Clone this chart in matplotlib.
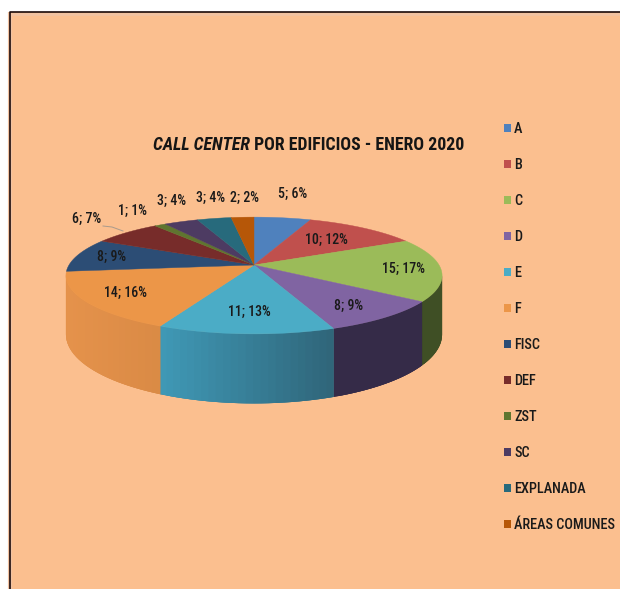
import numpy as np
import matplotlib
matplotlib.use("Agg")
import matplotlib.pyplot as plt
from matplotlib.patches import Polygon, Patch, Rectangle
from matplotlib.colors import to_rgb

categories = ["A", "B", "C", "D", "E", "F", "FISC", "DEF", "ZST", "SC", "EXPLANADA", "ÁREAS COMUNES"]
counts = [5, 10, 15, 8, 11, 14, 8, 6, 1, 3, 3, 2]
percents = [6, 12, 17, 9, 13, 16, 9, 7, 1, 4, 4, 2]
title_italic = "CALL CENTER"
title_rest = " POR EDIFICIOS - ENERO 2020"

colors = ["#4F81BD", "#C0504D", "#9BBB59", "#8064A2", "#4BACC6", "#EC9648",
          "#2C4D75", "#772C2A", "#5F7530", "#4D3B62", "#276A7C", "#B65708"]
wall_from = {2: "#3F4F25", 3: "#352B48", 4: "#3F98B5", 5: "#E5924B"}
wall_to = {2: "#3F4F25", 3: "#352B48", 4: "#2F6478", 5: "#D98A45"}
label_xy = [(293, 194), (326, 240), (403, 269), (349, 306), (249, 312), (125, 293),
            (112, 257), (87, 219), (133, 211), (172, 201), (211, 198), (244, 198)]

BG = "#FBBF8F"
CX, CY = 254, 265          # pie apex in pixels
A, B, K, H = 185, 56.5, 0.18, 57   # projection of the tilted disc

plt.rcParams["font.family"] = ["Roboto Condensed", "Liberation Sans"]
fig = plt.figure(figsize=(6.2, 5.89), dpi=100, facecolor="white")
ax = fig.add_axes([0, 0, 1, 1])
ax.set_xlim(0, 620)
ax.set_ylim(589, 0)
ax.axis("off")

ax.add_patch(Rectangle((10, 12), 615, 580, fc=BG, ec="none", zorder=0))
ax.plot([10, 10], [589, 12], color="#F2C3A2", lw=3, zorder=1, solid_capstyle="butt")
ax.plot([10, 620], [13.5, 13.5], color="#F2C3A2", lw=2, zorder=1, solid_capstyle="butt")
ax.plot([9.5, 9.5, 620], [589, 12, 12], color="#1A0A0A", lw=1.2, zorder=2)


def rim(deg):
    t = np.radians(deg)
    s = 1 / (1 + K * np.cos(t))
    return CX + A * np.sin(t) * s, CY - B * np.cos(t) * s, s


edges = np.concatenate([[0], np.cumsum(counts)]) / np.sum(counts) * 360
vis_lo = np.degrees(np.arccos(-K))
vis_hi = 360 - vis_lo

# outer walls: one solid backing polygon, then overlapping bands for the shading
for i, (a0, a1) in enumerate(zip(edges[:-1], edges[1:])):
    lo, hi = max(a0, vis_lo), min(a1, vis_hi)
    if lo >= hi or i not in wall_from:
        continue
    grid = np.linspace(lo, hi, 25)
    xs, ys, ss = rim(grid)
    c_start, c_end = np.array(to_rgb(wall_from[i])), np.array(to_rgb(wall_to[i]))
    left, right = xs.min(), xs.max()
    backing = np.c_[np.r_[xs, xs[::-1]], np.r_[ys, (ys + H * ss)[::-1]]]
    ax.add_patch(Polygon(backing, fc=(c_start + c_end) / 2, ec="none", zorder=3))
    order = np.argsort(xs)
    for j in order[:-1]:
        k = min(j + 2, len(grid) - 1) if xs[min(j + 1, len(grid) - 1)] > xs[j] else max(j - 2, 0)
        col = c_start + (c_end - c_start) * (xs[j] - left) / max(right - left, 1)
        px = [xs[j], xs[k], xs[k], xs[j]]
        py = [ys[j], ys[k], ys[k] + H * ss[k], ys[j] + H * ss[j]]
        ax.add_patch(Polygon(np.c_[px, py], fc=col, ec="none", zorder=3))

# top face
for i, (a0, a1) in enumerate(zip(edges[:-1], edges[1:])):
    grid = np.linspace(a0, a1, 60)
    xs, ys, _ = rim(grid)
    pts = np.c_[np.r_[CX, xs], np.r_[CY, ys]]
    ax.add_patch(Polygon(pts, fc=colors[i], ec=colors[i], lw=0.3, zorder=4))

# data labels
for v, p, (x, y) in zip(counts, percents, label_xy):
    ax.text(x, y, f"{v}; {p}%", ha="center", va="center", fontsize=10, fontweight=500,
            color="#1A1A1A", zorder=6)
ax.plot([103, 112, 123], [226, 227, 231], color="#A89A8C", lw=0.7, zorder=5)

# title
t1 = ax.text(153, 150, title_italic, fontsize=12.8, style="italic", fontweight="bold",
             color="#151515", ha="left", va="baseline", zorder=6)
ax.annotate(title_rest, xy=(1, 0), xycoords=t1, fontsize=12.8, fontweight="bold",
            color="#151515", ha="left", va="bottom", zorder=6)

# legend
handles = [Patch(fc=c, ec="none", label=n) for c, n in zip(colors, categories)]
leg = ax.legend(handles=handles, loc="upper left", bbox_to_anchor=(504, 122),
                bbox_transform=ax.transData, frameon=False,
                prop={"family": ["Roboto Condensed"], "size": 10.3, "weight": 500},
                labelspacing=1.54, handlelength=0.5, handleheight=0.5,
                handletextpad=0.2, borderpad=0, borderaxespad=0)
for t in leg.get_texts():
    t.set_color("#1A1A1A")

fig.savefig("out.png", dpi=100, facecolor="white")
